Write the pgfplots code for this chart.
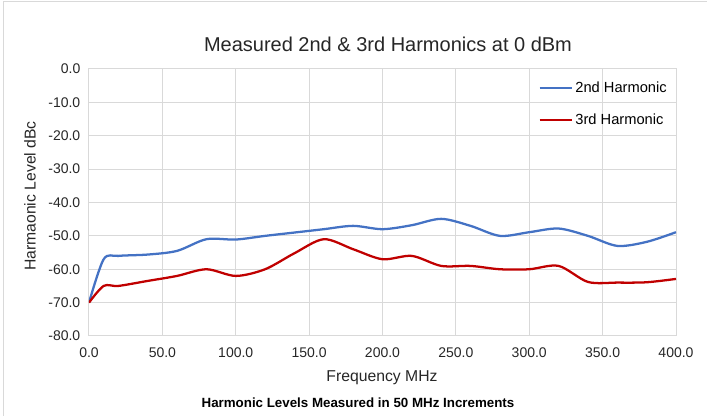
\documentclass[border=0pt]{standalone}
\usepackage{pgfplots}
\pgfplotsset{compat=1.18}
\usepackage{fontspec}
\setmainfont{Liberation Sans}
\definecolor{xblue}{HTML}{4472C4}
\definecolor{xred}{HTML}{C00000}
\definecolor{xgrid}{HTML}{D9D9D9}
\begin{document}
\begin{tikzpicture}
\path[use as bounding box] (-66.75pt,-60pt) rectangle (463.5pt,252pt);
\draw[xgrid, line width=0.75pt] (-63.75pt,-60pt) -- (-63.75pt,250.5pt) -- (463.5pt,250.5pt);
\begin{axis}[
  at={(0,0)}, anchor=south west,
  scale only axis, width=440.25pt, height=200.25pt,
  xmin=0, xmax=400, ymin=-80, ymax=0,
  xtick={0,50,...,400},
  xticklabels={0.0,50.0,100.0,150.0,200.0,250.0,300.0,350.0,400.0},
  ytick={-80,-70,...,0},
  yticklabels={-80.0,-70.0,-60.0,-50.0,-40.0,-30.0,-20.0,-10.0,0.0},
  major tick length=0pt,
  grid=major,
  major grid style={xgrid, line width=0.75pt},
  axis line style={xgrid, line width=0.75pt},
  tick label style={font=\fontsize{10.5}{12}\selectfont, text=black!85},
  yticklabel style={xshift=-3pt},
  xticklabel style={yshift=-5pt},
  legend style={draw=none, fill=white, fill opacity=0, text opacity=1, at={(0.763,0.968)}, anchor=north west,
    font=\fontsize{11}{13}\selectfont, row sep=10.5pt, inner sep=1pt},
  legend cell align=left,
  legend image code/.code={\draw[#1] (0pt,0pt) -- (24pt,0pt);},
]
\addplot[xblue, line width=1.7pt, smooth, tension=0.5] coordinates {
(0,-70) (10,-57) (20,-56) (40,-55.6) (60,-54.5) (80,-51) (100,-51.1) (120,-50) (140,-49) (160,-48) (180,-47) (200,-48) (220,-46.8) (240,-44.9) (260,-47) (280,-50) (300,-48.9) (320,-47.8) (340,-50) (360,-53) (380,-51.8) (400,-48.9)
};
\addlegendentry{2nd Harmonic}
\addplot[xred, line width=1.7pt, smooth, tension=0.5] coordinates {
(0,-70) (10,-65) (20,-65) (40,-63.5) (60,-62) (80,-60) (100,-62) (120,-60) (140,-55.2) (160,-51) (180,-54) (200,-57) (220,-56) (240,-59) (260,-59) (280,-60) (300,-60) (320,-59) (340,-63.8) (360,-64) (380,-63.9) (400,-62.9)
};
\addlegendentry{3rd Harmonic}
\end{axis}
\node[font=\fontsize{15}{17}\selectfont, text=black!85] at (224.25pt,219pt) {Measured 2nd \& 3rd Harmonics at 0 dBm};
\node[font=\fontsize{11.8}{13}\selectfont, text=black!85] at (219.75pt,-31.5pt) {Frequency MHz};
\node[font=\fontsize{11.8}{13}\selectfont, text=black!85, rotate=90] at (-44.25pt,105pt) {Harmaonic Level dBc};
\node[font=\bfseries\fontsize{10}{12}\selectfont] at (201.75pt,-50pt) {Harmonic Levels Measured in 50 MHz Increments};
\end{tikzpicture}
\end{document}
